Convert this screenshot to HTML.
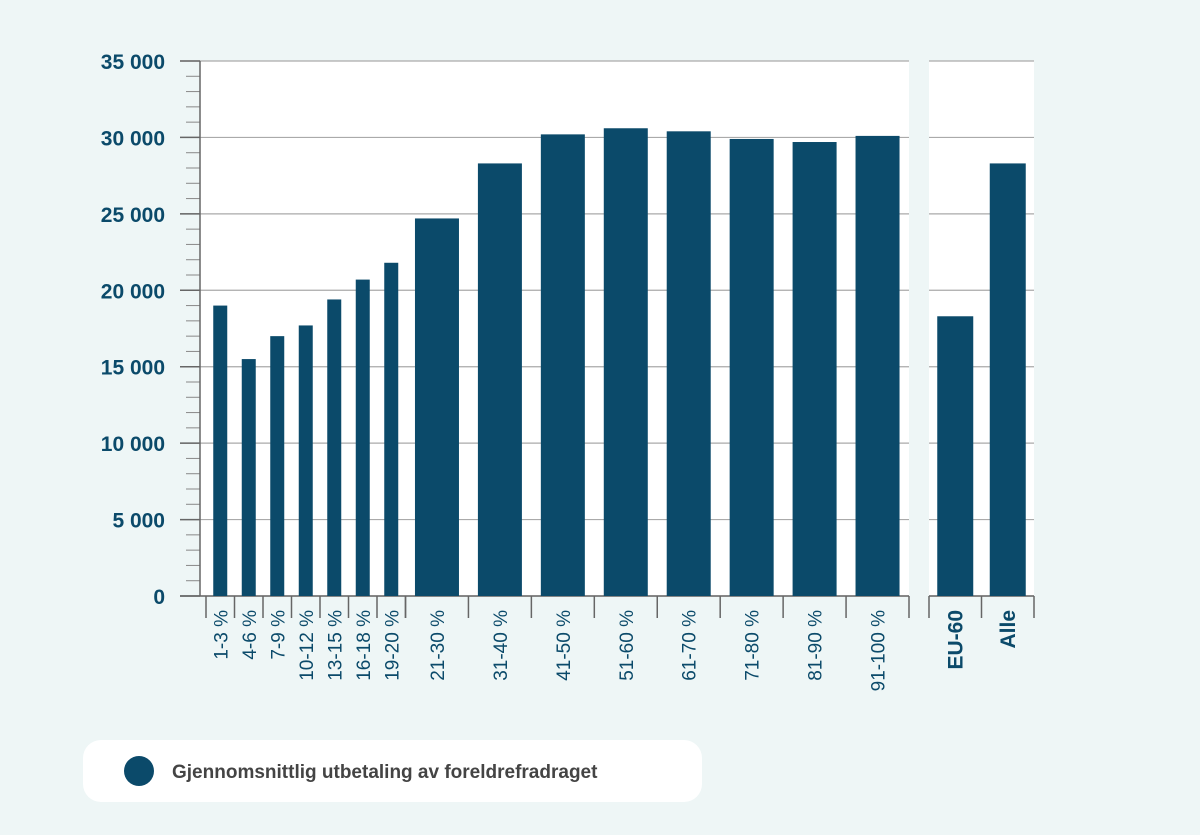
<!DOCTYPE html>
<html><head><meta charset="utf-8"><style>
body{margin:0;background:#eef6f6;}
svg{display:block;font-family:"Liberation Sans",sans-serif;}
</style></head><body>
<svg width="1200" height="835">
<g id="g"></g>
<rect x="83" y="740" width="619" height="62" rx="18" fill="#fff"/>
<circle cx="139" cy="771" r="15" fill="#0b4a6a"/>
<text x="172" y="778" font-size="19" font-weight="bold" fill="#444">Gjennomsnittlig utbetaling av foreldrefradraget</text>
</svg>
<script>
const catsA=["1-3 %","4-6 %","7-9 %","10-12 %","13-15 %","16-18 %","19-20 %"];
const valsA=[19000,15500,17000,17700,19400,20700,21800];
const catsB=["21-30 %","31-40 %","41-50 %","51-60 %","61-70 %","71-80 %","81-90 %","91-100 %"];
const valsB=[24700,28300,30200,30600,30400,29900,29700,30100];
const catsC=["EU-60","Alle"];
const valsC=[18300,28300];
const yTicks=[0,5000,10000,15000,20000,25000,30000,35000];
const yLabels=["0","5 000","10 000","15 000","20 000","25 000","30 000","35 000"];
const NS="http://www.w3.org/2000/svg",g=document.getElementById('g');
const y=v=>596-v*535/35000;
function mk(t,a){const e=document.createElementNS(NS,t);for(const k in a)e.setAttribute(k,a[k]);g.appendChild(e);return e;}
let e;
e=mk('rect',{x:200,y:61,width:709,height:535,fill:'#fff'});


e=mk('rect',{x:929,y:61,width:105,height:535,fill:'#fff'});


for(let v=0;v<=35000;v+=1000){if(v%5000)mk('line',{x1:186,x2:200,y1:y(v),y2:y(v),stroke:'#888'});}
yTicks.forEach((v,i)=>{
 mk('line',{x1:180,x2:909,y1:y(v),y2:y(v),stroke:'#aaa','stroke-width':1.2});
 mk('line',{x1:929,x2:1034,y1:y(v),y2:y(v),stroke:'#aaa','stroke-width':1.2});
 mk('line',{x1:180,x2:200,y1:y(v),y2:y(v),stroke:'#666','stroke-width':1.5});
 e=mk('text',{x:165,y:y(v)+8,'text-anchor':'end','font-size':21,'font-weight':'bold',fill:'#0b4a6a'});
 e.textContent=yLabels[i];
 
 
});
mk('line',{x1:200,x2:200,y1:61,y2:596,stroke:'#666','stroke-width':1.5});
mk('line',{x1:180,x2:909,y1:596,y2:596,stroke:'#666','stroke-width':1.5});
mk('line',{x1:929,x2:1034,y1:596,y2:596,stroke:'#666','stroke-width':1.5});
function group(cats,vals,x0,x1,bw,bold,pre){
 const p=(x1-x0)/cats.length;
 for(let i=0;i<=cats.length;i++)mk('line',{x1:x0+i*p,x2:x0+i*p,y1:596,y2:618,stroke:'#666','stroke-width':1.5});
 cats.forEach((c,i)=>{
  const cx=x0+(i+0.5)*p;
  e=mk('rect',{x:cx-bw/2,y:y(vals[i]),width:bw,height:596-y(vals[i]),fill:'#0b4a6a'});
  
  
  e=mk('text',{transform:`translate(${cx+7},610) rotate(-90)`,'text-anchor':'end','font-size':bold?21:19,'font-weight':bold?'bold':'normal',fill:'#0b4a6a'});
  e.textContent=c;
  
  
 });
}
group(catsA,valsA,206,405.5,14,false,'low');
group(catsB,valsB,405.5,909,44,false,'high');
group(catsC,valsC,929,1034,36,true,'summary');
</script>
</body></html>
